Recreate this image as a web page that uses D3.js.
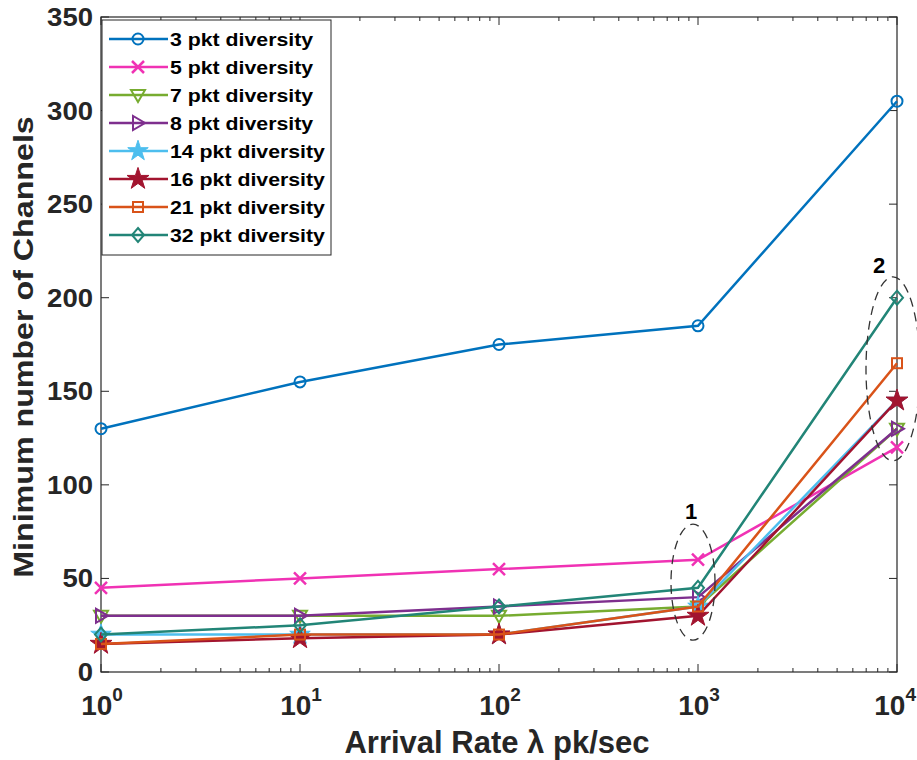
<!DOCTYPE html>
<html>
<head>
<meta charset="utf-8">
<script src="https://cdn.jsdelivr.net/npm/d3@7"></script>
<style>
body { margin: 0; background: #fff; }
svg { font-family: "Liberation Sans", Arial, sans-serif; }
</style>
</head>
<body>
<svg id="chart" width="917" height="760"></svg>
<script>
// arrival rates (pk/sec)
var rates = [1, 10, 100, 1000, 10000];
var seriesNames = ["3 pkt diversity", "5 pkt diversity", "7 pkt diversity", "8 pkt diversity",
	"14 pkt diversity", "16 pkt diversity", "21 pkt diversity", "32 pkt diversity"];
var div3 = [130, 155, 175, 185, 305];
var div5 = [45, 50, 55, 60, 120];
var div7 = [30, 30, 30, 35, 130];
var div8 = [30, 30, 35, 40, 130];
var div14 = [20, 20, 20, 35, 145];
var div16 = [15, 18, 20, 30, 145];
var div21 = [15, 20, 20, 35, 165];
var div32 = [20, 25, 35, 45, 200];
var yTicks = [0, 50, 100, 150, 200, 250, 300, 350];

var colors = ["#0072BD", "#F032B4", "#77AC30", "#7E2F8E", "#4DBEEE", "#A2142F", "#D95319", "#228577"];
var markers = ["circle", "x", "triDown", "triRight", "asterisk", "star", "square", "diamond"];
var allSeries = [div3, div5, div7, div8, div14, div16, div21, div32];

var svg = d3.select("#chart");
var margin = { left: 101, right: 20, top: 17, bottom: 88 };
var width = 917, height = 760;

var x = d3.scaleLog().domain([1, 10000]).range([margin.left, width - margin.right]);
var y = d3.scaleLinear().domain([0, 350]).range([height - margin.bottom, margin.top]);

// minor ticks for the log axis
var minor = [];
for (var e = 0; e < 4; e++) {
	for (var k = 2; k <= 9; k++) minor.push(k * Math.pow(10, e));
}

// widen text a bit, the reference glyphs are stretched horizontally
function stretch(sel, f) {
	sel.each(function() {
		var w = this.getComputedTextLength();
		d3.select(this).attr("textLength", w * f).attr("lengthAdjust", "spacingAndGlyphs");
	});
}

function drawAxes() {
	var g = svg.append("g");
	var x0 = x.range()[0], x1 = x.range()[1], y0 = y.range()[0], y1 = y.range()[1];
	g.append("rect").attr("x", x0).attr("y", y1).attr("width", x1 - x0).attr("height", y0 - y1)
		.attr("fill", "none").attr("stroke", "#262626").attr("stroke-width", 1.2);
	rates.forEach(function(r) {
		g.append("line").attr("x1", x(r)).attr("x2", x(r)).attr("y1", y0).attr("y2", y0 - 8).attr("stroke", "#262626");
		g.append("line").attr("x1", x(r)).attr("x2", x(r)).attr("y1", y1).attr("y2", y1 + 8).attr("stroke", "#262626");
	});
	minor.forEach(function(r) {
		g.append("line").attr("x1", x(r)).attr("x2", x(r)).attr("y1", y0).attr("y2", y0 - 4).attr("stroke", "#262626");
		g.append("line").attr("x1", x(r)).attr("x2", x(r)).attr("y1", y1).attr("y2", y1 + 4).attr("stroke", "#262626");
	});
	yTicks.forEach(function(t) {
		g.append("line").attr("x1", x0).attr("x2", x0 + 8).attr("y1", y(t)).attr("y2", y(t)).attr("stroke", "#262626");
		g.append("line").attr("x1", x1).attr("x2", x1 - 8).attr("y1", y(t)).attr("y2", y(t)).attr("stroke", "#262626");
		var t1 = g.append("text").attr("x", x0 - 8).attr("y", y(t) + 9)
			.attr("text-anchor", "end").attr("font-size", 25).attr("font-weight", "bold").attr("fill", "#262626")
			.text(t);
		stretch(t1, 1.1);
	});
	rates.forEach(function(r, i) {
		var last = i == rates.length - 1;
		var t = g.append("text").attr("x", last ? width - 1 : x(r) + 1).attr("y", y0 + 43)
			.attr("text-anchor", last ? "end" : "middle").attr("font-size", 28).attr("font-weight", "bold").attr("fill", "#262626");
		t.append("tspan").text("10");
		t.append("tspan").attr("dy", -14).attr("font-size", 19).text(i);
	});
	g.append("text").attr("x", (x0 + x1) / 2 - 2).attr("y", 753).attr("text-anchor", "middle")
		.attr("font-size", 31).attr("font-weight", "bold").attr("fill", "#262626")
		.text("Arrival Rate \u03bb pk/sec");
	var yl = g.append("text").attr("transform", "translate(33," + 347 + ") rotate(-90)")
		.attr("text-anchor", "middle").attr("font-size", 28).attr("font-weight", "bold").attr("fill", "#262626")
		.text("Minimum number of Channels");
	stretch(yl, 1.15);
}

function drawMarker(g, type, cx, cy, color) {
	var s = 7;
	if (type == "circle") {
		g.append("circle").attr("cx", cx).attr("cy", cy).attr("r", 5.5).attr("fill", "none").attr("stroke", color).attr("stroke-width", 2);
	} else if (type == "x") {
		g.append("path").attr("d", "M" + (cx - 6) + "," + (cy - 6) + "L" + (cx + 6) + "," + (cy + 6) + "M" + (cx - 6) + "," + (cy + 6) + "L" + (cx + 6) + "," + (cy - 6))
			.attr("stroke", color).attr("stroke-width", 2.5);
	} else if (type == "triDown") {
		g.append("path").attr("d", "M" + (cx - s) + "," + (cy - 5) + "L" + (cx + s) + "," + (cy - 5) + "L" + cx + "," + (cy + 7) + "Z")
			.attr("fill", "none").attr("stroke", color).attr("stroke-width", 2);
	} else if (type == "triRight") {
		g.append("path").attr("d", "M" + (cx - 5) + "," + (cy - s) + "L" + (cx - 5) + "," + (cy + s) + "L" + (cx + 7) + "," + cy + "Z")
			.attr("fill", "none").attr("stroke", color).attr("stroke-width", 2);
	} else if (type == "asterisk") {
		g.append("path").attr("d", d3.symbol().type(d3.symbolStar).size(130)()).attr("transform", "translate(" + cx + "," + cy + ")")
			.attr("fill", color).attr("stroke", color).attr("stroke-width", 1);
	} else if (type == "star") {
		g.append("path").attr("d", d3.symbol().type(d3.symbolStar).size(150)()).attr("transform", "translate(" + cx + "," + cy + ")")
			.attr("fill", color).attr("stroke", color).attr("stroke-width", 1);
	} else if (type == "square") {
		g.append("rect").attr("x", cx - 5).attr("y", cy - 5).attr("width", 10).attr("height", 10)
			.attr("fill", "none").attr("stroke", color).attr("stroke-width", 2);
	} else if (type == "diamond") {
		g.append("path").attr("d", "M" + cx + "," + (cy - 7) + "L" + (cx + 6) + "," + cy + "L" + cx + "," + (cy + 7) + "L" + (cx - 6) + "," + cy + "Z")
			.attr("fill", "none").attr("stroke", color).attr("stroke-width", 2);
	}
}

function drawSeries() {
	var line = d3.line().x(function(d) { return x(d[0]); }).y(function(d) { return y(d[1]); });
	allSeries.forEach(function(vals, i) {
		var g = svg.append("g");
		var pts = rates.map(function(r, j) { return [r, vals[j]]; });
		g.append("path").datum(pts).attr("d", line).attr("fill", "none")
			.attr("stroke", colors[i]).attr("stroke-width", 2.5);
		pts.forEach(function(p) { drawMarker(g, markers[i], x(p[0]), y(p[1]), colors[i]); });
	});
}

function drawAnnotations() {
	var g = svg.append("g");
	g.append("ellipse").attr("cx", x(1000) - 5).attr("cy", y(48)).attr("rx", 22).attr("ry", 58)
		.attr("fill", "none").attr("stroke", "#333").attr("stroke-width", 1.3).attr("stroke-dasharray", "9,6");
	g.append("text").attr("x", x(1000) - 7).attr("y", y(82)).attr("text-anchor", "middle")
		.attr("font-size", 22).attr("font-weight", "bold").text("1");
	g.append("ellipse").attr("cx", x(10000) - 4).attr("cy", y(162)).attr("rx", 27).attr("ry", 92)
		.attr("fill", "none").attr("stroke", "#333").attr("stroke-width", 1.3).attr("stroke-dasharray", "9,6");
	g.append("text").attr("x", x(10000) - 18).attr("y", y(213)).attr("text-anchor", "middle")
		.attr("font-size", 22).attr("font-weight", "bold").text("2");
}

function drawLegend() {
	var g = svg.append("g");
	g.append("rect").attr("x", 102).attr("y", 20).attr("width", 229).attr("height", 235)
		.attr("fill", "#fff").attr("stroke", "#262626").attr("stroke-width", 1);
	seriesNames.forEach(function(name, i) {
		var ly = 39 + i * 28;
		g.append("line").attr("x1", 109).attr("x2", 168).attr("y1", ly).attr("y2", ly)
			.attr("stroke", colors[i]).attr("stroke-width", 2.5);
		drawMarker(g, markers[i], 138, ly, colors[i]);
		var t = g.append("text").attr("x", 170).attr("y", ly + 7).attr("font-size", 19).attr("font-weight", "bold")
			.attr("fill", "#000").text(name);
		stretch(t, 1.12);
	});
}

drawAxes();
drawSeries();
drawAnnotations();
drawLegend();
</script>
</body>
</html>
